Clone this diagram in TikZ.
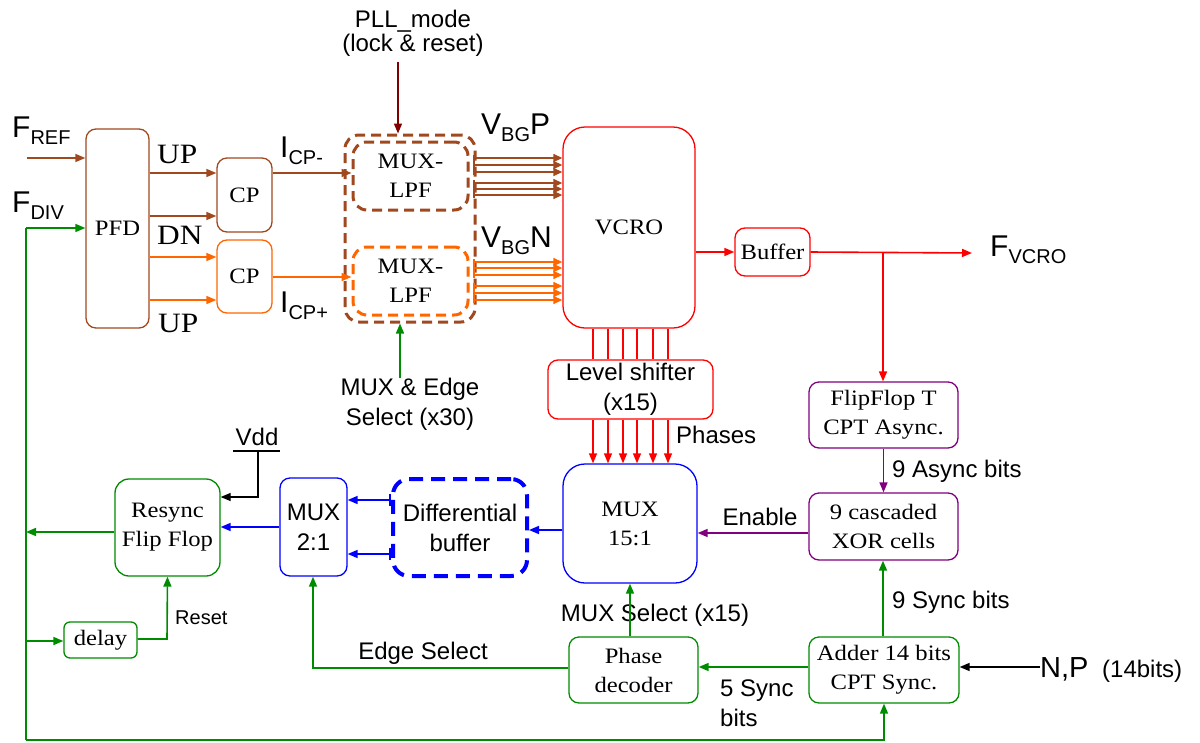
\documentclass[tikz,border=0pt]{standalone}
\usepackage{fontspec}
\setsansfont{Liberation Sans}
\setmainfont{Liberation Serif}[FakeStretch=1.12]
\usetikzlibrary{arrows.meta}
\definecolor{cbrown}{RGB}{160,72,30}
\definecolor{corange}{RGB}{255,102,0}
\definecolor{cdred}{RGB}{128,0,0}
\definecolor{cred}{RGB}{255,0,0}
\definecolor{cblue}{RGB}{0,0,255}
\definecolor{cgreen}{RGB}{0,140,0}
\definecolor{cpurple}{RGB}{128,0,128}
\newcommand\biglbl[2]{{\sffamily\fontsize{30}{30}\selectfont #1\raisebox{-7pt}{\fontsize{20}{20}\selectfont #2}}}
\begin{document}
\begin{tikzpicture}[x=1pt,y=-1pt,
  conn/.style={line width=1.6pt,-{Triangle[length=10pt,width=8pt]}},
  thinar/.style={line width=1.4pt,-{Triangle[length=9pt,width=8pt]}},
  plain/.style={line width=1.6pt},
  box/.style={draw,line width=1.3pt,rounded corners=10pt,align=center,inner sep=0pt},
  rmtxt/.style={font=\fontsize{22}{29}\selectfont},
  sftxt/.style={font=\sffamily\fontsize{24}{30}\selectfont},
  dashbox/.style={draw,line width=3pt,rounded corners=14pt,dash pattern=on 10pt off 6pt,inner sep=0pt},
  updn/.style={font=\fontsize{28}{28}\selectfont,anchor=base west,inner sep=0pt}
]
\useasboundingbox (0,0) rectangle (1200,742);

% ---------- boxes ----------
\node[box,rmtxt,draw=cbrown,minimum width=63pt,minimum height=199pt] (pfd) at (117.5,228.5) {PFD};
\node[box,rmtxt,draw=cbrown,minimum width=55pt,minimum height=74pt] (cp1) at (244.5,195) {CP};
\node[box,rmtxt,draw=corange,minimum width=55pt,minimum height=73pt] (cp2) at (244.5,276.5) {CP};
\node[dashbox,draw=cbrown,minimum width=130pt,minimum height=187pt] (lpf) at (410,228.5) {};
\node[dashbox,rmtxt,draw=cbrown,align=center,minimum width=115pt,minimum height=68pt] (lpf1) at (410.5,176) {MUX-\\LPF};
\node[dashbox,rmtxt,draw=corange,align=center,minimum width=115pt,minimum height=68pt] (lpf2) at (410.5,281) {MUX-\\LPF};
\node[box,rmtxt,draw=cred,rounded corners=22pt,minimum width=132pt,minimum height=201pt] (vcro) at (629,227.5) {VCRO};
\node[box,rmtxt,draw=cred,minimum width=75pt,minimum height=48pt] (buf) at (772.5,252) {Buffer};
\node[box,sftxt,draw=cred,minimum width=165pt,minimum height=59pt] (ls) at (630.5,389.5) {Level shifter\\(x15)};
\node[box,rmtxt,draw=cblue,rounded corners=22pt,minimum width=134pt,minimum height=119pt] (mux15) at (630,523.5) {MUX\\15:1};
\node[box,rmtxt,draw=cpurple,minimum width=149pt,minimum height=66pt] (ff) at (883.5,415) {FlipFlop T\\CPT Async.};
\node[box,rmtxt,draw=cpurple,minimum width=149pt,minimum height=67pt] (xor) at (883.5,526.5) {9 cascaded\\XOR cells};
\node[box,rmtxt,draw=cgreen,minimum width=150pt,minimum height=66pt] (adder) at (884,670) {Adder 14 bits\\CPT Sync.};
\node[box,rmtxt,draw=cgreen,minimum width=129pt,minimum height=66pt] (phase) at (633.5,670) {Phase\\decoder};
\node[box,rmtxt,draw=cgreen,rounded corners=14pt,minimum width=105pt,minimum height=97pt] (resync) at (167.5,527.5) {Resync\\Flip Flop};
\node[box,sftxt,draw=cblue,minimum width=67pt,minimum height=98pt] (mux2) at (313.5,527) {MUX\\2:1};
\node[dashbox,sftxt,draw=cblue,align=center,line width=4pt,dash pattern=on 14pt off 8pt,rounded corners=16pt,minimum width=134pt,minimum height=97pt] (diff) at (460,527.5) {Differential\\buffer};
\node[box,rmtxt,draw=cgreen,rounded corners=6pt,minimum width=73pt,minimum height=36pt] (delay) at (100.5,640) {delay};

% ---------- labels ----------
\node[anchor=base west,inner sep=0pt] (fref) at (12,137) {\biglbl{F}{REF}};
\node[anchor=base west,inner sep=0pt] (fdiv) at (12,212) {\biglbl{F}{DIV}};
\node[updn] (lup1) at (157,163) {UP};
\node[updn] (ldn) at (157,244) {DN};
\node[updn] (lup2) at (158,332) {UP};
\node[anchor=base west,inner sep=0pt] (icpm) at (280,157) {\biglbl{I}{CP-}};
\node[anchor=base west,inner sep=0pt] (icpp) at (280,312) {\biglbl{I}{CP+}};
\node[anchor=base west,inner sep=0pt] (vbgp) at (481,134) {\biglbl{V}{BG}{\sffamily\fontsize{30}{30}\selectfont P}};
\node[anchor=base west,inner sep=0pt] (vbgn) at (481,247) {\biglbl{V}{BG}{\sffamily\fontsize{30}{30}\selectfont N}};
\node[anchor=base west,inner sep=0pt] (fvco) at (990,256) {\biglbl{F}{VCRO}};
\node[sftxt,font=\sffamily\fontsize{24}{24}\selectfont,align=center] (pll) at (413,33) {PLL\_mode\\(lock \& reset)};
\node[sftxt,align=center] (msel) at (410,404) {MUX \& Edge\\Select (x30)};
\node[sftxt,anchor=west,inner sep=0pt] (lph) at (676,435) {Phases};
\node[sftxt,anchor=west,inner sep=0pt] (lasync) at (892,471) {9 Async bits};
\node[sftxt,inner sep=0pt] (len) at (760,517) {Enable};
\node[sftxt,anchor=west,inner sep=0pt] (lsync9) at (892,602) {9 Sync bits};
\node[sftxt,inner sep=0pt] (lmuxsel) at (655,615) {MUX Select (x15)};
\node[sftxt,align=left,anchor=west,inner sep=0pt] (lsync5) at (720,703) {5 Sync\\bits};
\node[sftxt,inner sep=0pt] (ledge) at (423,653) {Edge Select};
\node[anchor=west,inner sep=0pt,font=\sffamily\fontsize{20}{20}\selectfont] (lreset) at (175,618) {Reset};
\node[sftxt,inner sep=0pt] (vdd) at (257,437) {Vdd};
\node[anchor=base west,inner sep=0pt,font=\sffamily\fontsize{29}{29}\selectfont] (np) at (1040,677) {N,P};
\node[anchor=base west,inner sep=0pt,font=\sffamily\fontsize{24}{24}\selectfont] (npb) at (1102,677) {(14bits)};

% ---------- coordinates ----------
\coordinate (frefin) at (27,158);
\coordinate (fbtop) at (26,228);
\coordinate (fbbot) at (26,740);
\coordinate (fbres) at (26,532);
\coordinate (fbdel) at (26,641);
\coordinate (pllsrc) at (398,62);
\coordinate (mesrc) at (400,378);
\coordinate (vddtap) at (258,451);
\coordinate (vddl) at (233,451);
\coordinate (vddr) at (280,451);
\coordinate (fout) at (972,253);
\coordinate (fbr) at (883,253);

% ---------- top section ----------
\draw[conn,cbrown] (frefin) -- (pfd.west |- frefin);
\draw[conn,cgreen] (fbtop) -- (pfd.west |- fbtop);
\draw[conn,cbrown] (pfd.east |- 0,173) -- (cp1.west |- 0,173);
\draw[conn,cbrown] (pfd.east |- 0,216) -- (cp1.west |- 0,216);
\draw[conn,corange] (pfd.east |- 0,257) -- (cp2.west |- 0,257);
\draw[conn,corange] (pfd.east |- 0,300) -- (cp2.west |- 0,300);
\draw[conn,cbrown] (cp1.east |- 0,173) -- (lpf1.west |- 0,173);
\draw[conn,corange] (cp2.east |- 0,277) -- (lpf2.west |- 0,277);
\draw[conn,cdred] (pllsrc) -- (pllsrc |- lpf.north);
\draw[conn,cgreen] (mesrc) -- (mesrc |- lpf.south);

% bus lines to VCRO
\foreach \yy in {158,165,172,183,189,195}
  \draw[thinar,cbrown] (474,\yy) -- (vcro.west |- 0,\yy);
\draw[plain,cbrown] (474,155) -- (474,175);
\draw[plain,cbrown] (474,180) -- (474,198);
\foreach \yy in {262,268,275,286,293,300}
  \draw[thinar,corange] (474,\yy) -- (vcro.west |- 0,\yy);
\draw[plain,corange] (474,259) -- (474,278);
\draw[plain,corange] (474,283) -- (474,303);

% VCRO -> level shifter -> MUX
\foreach \xx in {593,608,623,637,653,668} {
  \draw[plain,cred,line width=1.3pt] (\xx,0 |- vcro.south) -- (\xx,0 |- ls.north);
  \draw[conn,cred,line width=1.3pt] (\xx,0 |- ls.south) -- (\xx,0 |- mux15.north);
}

% Buffer / output
\draw[conn,cred] (vcro.east |- buf.west) -- (buf.west);
\draw[conn,cred] (buf.east) -- (fout);
\draw[conn,cred] (fbr) -- (fbr |- ff.north);

% right column
\draw[conn,cpurple] (ff.south) -- (xor.north);
\draw[conn,cpurple] (xor.west |- 0,533) -- (mux15.east |- 0,533);
\draw[conn,cgreen] (adder.north -| 883,0) -- (xor.south -| 883,0);
\draw[conn,black] (np.west |- 0,667) -- (adder.east |- 0,667);
\draw[conn,cgreen] (adder.west |- 0,667) -- (phase.east |- 0,667);
\draw[conn,cgreen] (phase.north -| 630,0) -- (mux15.south -| 630,0);

% bottom-left
\draw[conn,cblue] (mux15.west |- 0,530) -- (diff.east |- 0,530);
\draw[line width=1.6pt,cblue,{Bar[width=12pt]}-{Triangle[length=10pt,width=8pt]}] (diff.west |- 0,500) -- (mux2.east |- 0,500);
\draw[line width=1.6pt,cblue,{Bar[width=12pt]}-{Triangle[length=10pt,width=8pt]}] (diff.west |- 0,554) -- (mux2.east |- 0,554);
\draw[conn,cblue] (mux2.west |- 0,527) -- (resync.east |- 0,527);
\draw[plain,black,line width=1.3pt] (vddl) -- (vddr);
\draw[conn,black,line width=1.3pt] (vddtap) -- (258,497) -- (resync.east |- 0,497);
\draw[conn,cgreen] (resync.west |- fbres) -- (fbres);
\draw[conn,cgreen] (fbdel) -- (delay.west |- fbdel);
\draw[conn,cgreen] (delay.east |- 0,639) -- (167,639) -- (resync.south);
\draw[conn,cgreen] (phase.west |- 0,668) -- (313,668) -- (mux2.south -| 313,0);
\draw[plain,cgreen] (fbtop) -- (fbbot);
\draw[conn,cgreen] (fbbot) -- (884,740) -- (adder.south -| 884,0);
\end{tikzpicture}
\end{document}
